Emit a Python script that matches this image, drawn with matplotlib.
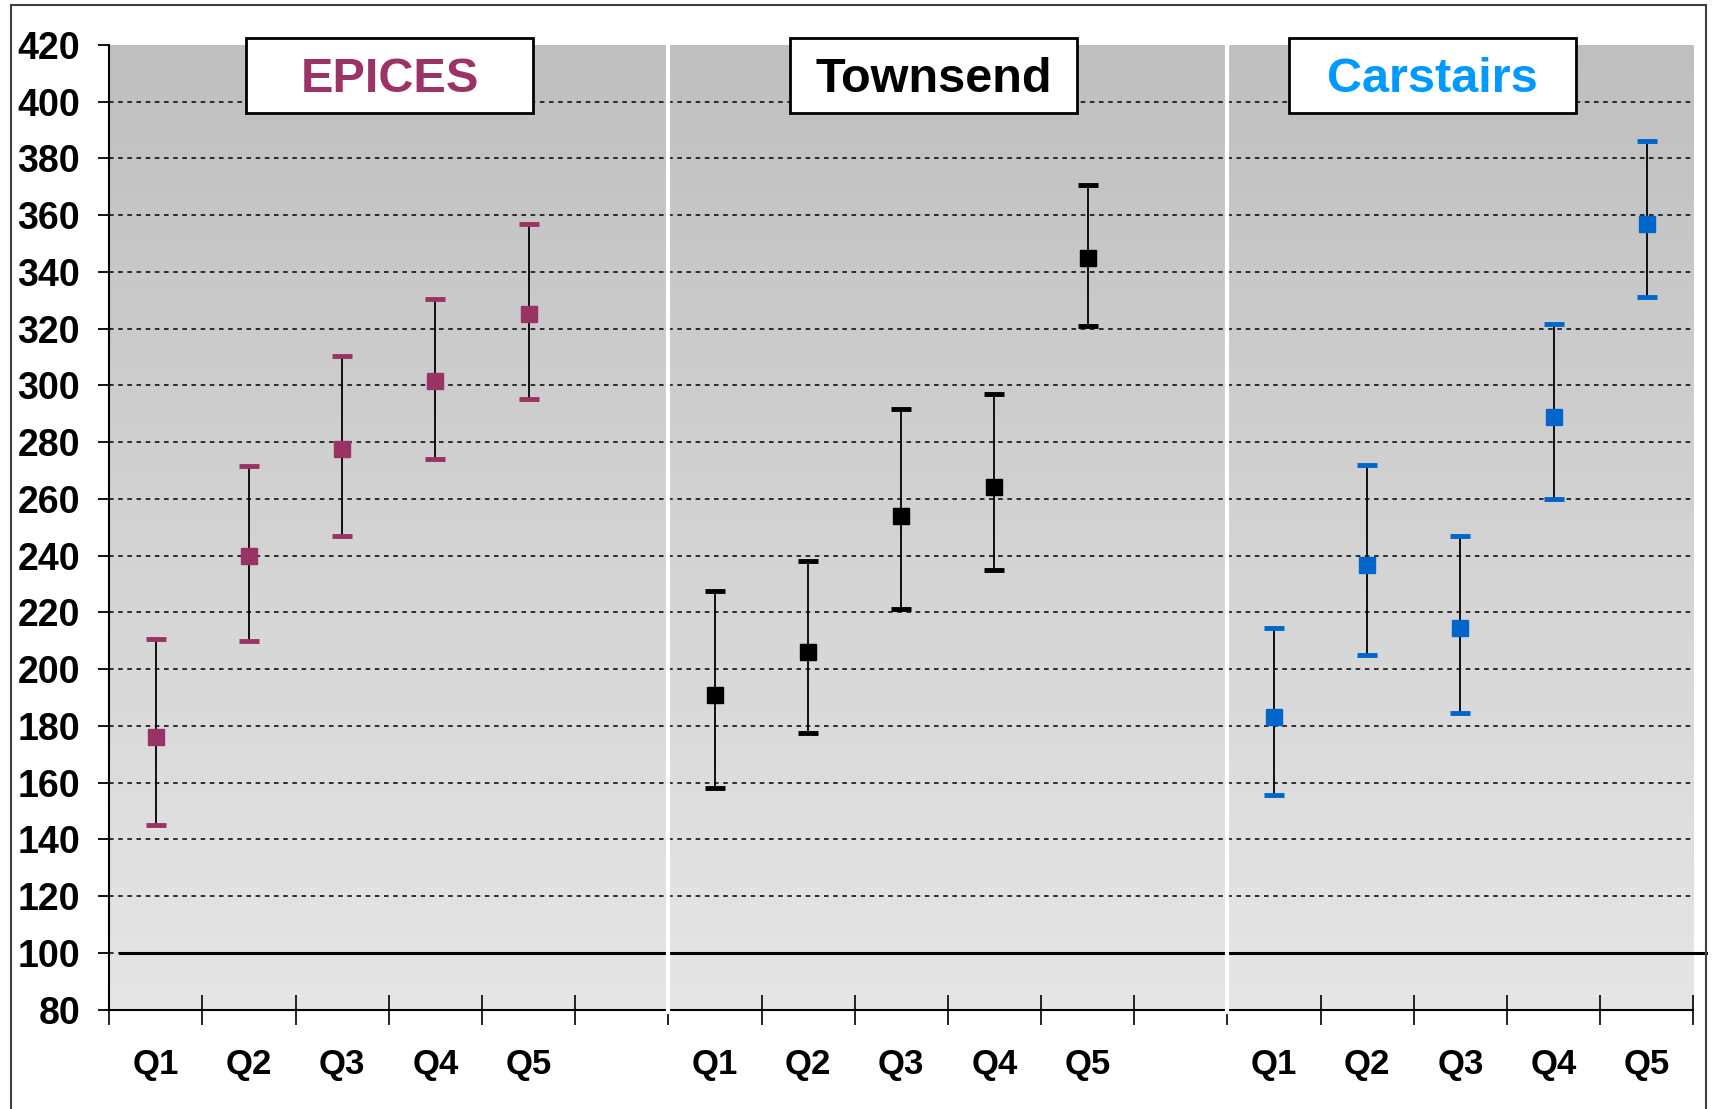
import numpy as np
import matplotlib.pyplot as plt
from matplotlib.patches import Rectangle
from matplotlib.colors import LinearSegmentedColormap

plt.rcParams['font.family'] = ['Liberation Sans', 'DejaVu Sans']
plt.rcParams['font.weight'] = 'bold'

# --- data: index value per quintile, with 95% interval bounds ---
quintiles = ["Q1", "Q2", "Q3", "Q4", "Q5"]

epices_val = [176, 240, 277.5, 301.5, 325]
epices_low = [145, 210, 247, 274, 295]
epices_high = [210.5, 271.5, 310.5, 330.5, 357]

townsend_val = [191, 206, 254, 264, 345]
townsend_low = [158, 177.5, 221, 235, 321]
townsend_high = [227.5, 238, 291.5, 297, 370.5]

carstairs_val = [183, 236.5, 214.5, 289, 357]
carstairs_low = [155.5, 205, 184.5, 260, 331]
carstairs_high = [214.5, 272, 247, 321.5, 386]

panels = [
    ("EPICES", 0, epices_val, epices_low, epices_high, "#993366", "#9B3366"),
    ("Townsend", 6, townsend_val, townsend_low, townsend_high, "#000000", "#000000"),
    ("Carstairs", 12, carstairs_val, carstairs_low, carstairs_high, "#0066CC", "#0099FF"),
]

W, H = 1568.0, 1015.0  # layout worked out on a 1568x1015 grid

fig = plt.figure(figsize=(17.13, 11.09), dpi=100)
ax = fig.add_axes([100 / W, 1 - 924 / H, 1450 / W, 883 / H])

xmin, xmax = -0.5, 16.5
ymin, ymax = 80, 420
ax.set_xlim(xmin, xmax)
ax.set_ylim(ymin, ymax)

# gradient backdrop
cmap = LinearSegmentedColormap.from_list("bg", ["#e6e6e6", "#bfbfbf"])
grad = np.linspace(0, 1, 256).reshape(-1, 1)
ax.imshow(grad, extent=[xmin, xmax, ymin, ymax], origin="lower", aspect="auto",
          cmap=cmap, zorder=0)

# dashed grid
for yv in range(100, 420, 20):
    ax.axhline(yv, color="black", lw=1.1, ls=(0, (3, 3)), zorder=1)

# reference line at 100
ax.plot([-0.38, 16.64], [100, 100], color="black", lw=2.2, zorder=2, clip_on=False)

# panel separators
for xs in (5.5, 11.5):
    ax.plot([xs, xs], [ymin - 1, ymax], color="white", lw=3, zorder=3, clip_on=False)

# error bars and markers
for name, off, val, low, high, col, tcol in panels:
    x = np.arange(len(val)) + off
    val = np.array(val)
    low = np.array(low)
    high = np.array(high)
    ax.vlines(x, low, high, color="black", lw=1.3, zorder=4)
    ax.plot(x, low, ls="none", marker="_", ms=15, mew=3.5, color=col, zorder=5)
    ax.plot(x, high, ls="none", marker="_", ms=15, mew=3.5, color=col, zorder=5)
    ax.plot(x, val, ls="none", marker="s", ms=11, color=col, zorder=6)

# axes styling
for s in ("top", "right"):
    ax.spines[s].set_visible(False)
ax.spines["left"].set_linewidth(1.5)
ax.spines["bottom"].set_linewidth(1.5)
ax.spines["left"].set_zorder(2)
ax.spines["bottom"].set_zorder(2)

ax.set_yticks(range(80, 421, 20))
ax.tick_params(axis="y", direction="out", length=8, width=1.3, labelsize=27, pad=13)

ax.set_xticks(np.arange(-0.5, 16.6, 1))
ax.set_xticklabels([])
ax.tick_params(axis="x", which="major", direction="inout", length=22, width=1.2)
ax.set_xticks(np.arange(17), minor=True)
ax.set_xticklabels((quintiles + [""]) * 2 + quintiles, minor=True)
ax.tick_params(axis="x", which="minor", length=0, labelsize=25, pad=28)

# panel titles in boxes
boxes = [(225, 488), (723, 986), (1180, 1443)]
for (name, off, val, low, high, col, tcol), (bx0, bx1) in zip(panels, boxes):
    rect = Rectangle((bx0 / W, 1 - 103 / H), (bx1 - bx0) / W, 68 / H,
                     transform=fig.transFigure, facecolor="white",
                     edgecolor="black", lw=2, zorder=10)
    fig.patches.append(rect)
    fig.text((bx0 + bx1) / 2 / W, 1 - 73 / H, name, color=tcol, fontsize=35,
             fontweight="bold", ha="center", va="center", zorder=11)

# outer frame
frame = Rectangle((10 / W, -0.02), 1552 / W, 1 - 5 / H + 0.02,
                  transform=fig.transFigure, fill=False, edgecolor="#404040",
                  lw=1.5, zorder=0)
fig.patches.append(frame)

fig.savefig("out.png", dpi=100, facecolor="white")
